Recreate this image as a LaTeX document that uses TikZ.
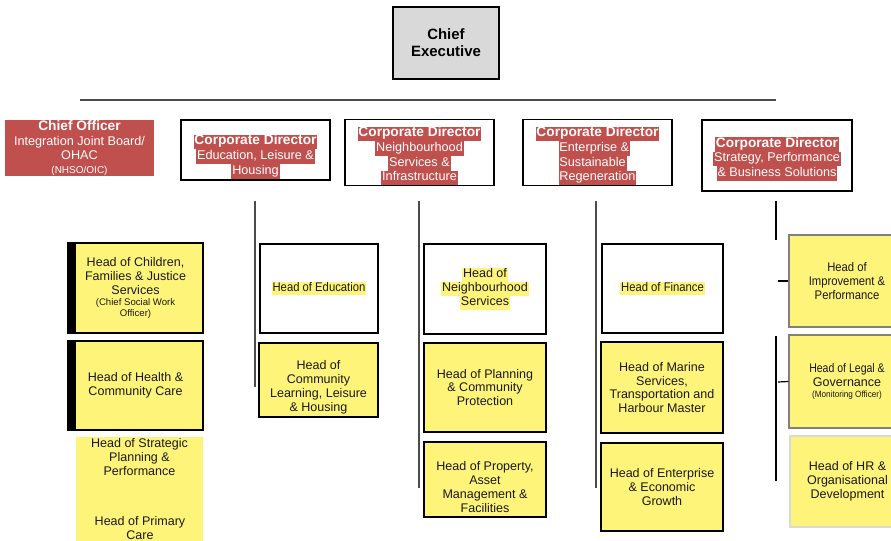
\documentclass[tikz,border=0pt]{standalone}
\usepackage{fontspec}
\setmainfont{Liberation Sans}
\newfontfamily\narrowfont[FakeStretch=0.9]{Liberation Sans}
\newfontfamily\narrowerfont[FakeStretch=0.84]{Liberation Sans}
\definecolor{cdred}{RGB}{192,80,77}
\definecolor{headyel}{RGB}{255,244,122}
\definecolor{ceogray}{RGB}{217,217,217}
\setlength{\fboxsep}{0pt}
\newcommand{\redhl}[1]{\colorbox{cdred}{\kern0.7pt\strut #1\kern0.7pt}}
\newcommand{\yelhl}[1]{\colorbox{headyel}{\kern0.7pt\strut #1\kern0.7pt}}
\newcommand{\cdtitle}[1]{\rule{0pt}{13pt}{\fontsize{10.3}{11}\selectfont\bfseries\redhl{#1}}}
\newcommand{\smalltxt}[1]{{\fontsize{7.2}{8}\selectfont #1}}
\begin{document}
\begin{tikzpicture}[x=0.75pt,y=-0.75pt,
    ceobox/.style={draw,line width=0.8pt,fill=ceogray,minimum width=79.5pt,minimum height=54pt,align=center,font=\fontsize{11.2}{12.75}\selectfont\bfseries},
    cdbox/.style={draw,line width=0.8pt,fill=white,minimum width=111.75pt,align=center,inner sep=0pt,text=white,font=\fontsize{9.5}{11}\selectfont},
    headbox/.style={draw,line width=0.8pt,fill=headyel,align=center,inner sep=1pt,text=black!90,font=\fontsize{9.4}{10.4}\selectfont},
    headtext/.style={align=center,inner sep=0pt,text=black!90,font=\fontsize{9.4}{10.4}\selectfont},
    leftbar/.style={path picture={\fill[black] (path picture bounding box.north west) rectangle ([xshift=6pt]path picture bounding box.south west);}},
    orgline/.style={black!70,line width=0.9pt}]
    \useasboundingbox (0,0) rectangle (891,541);
    \node[ceobox] (ceo) at (446,43) {Chief\\Executive};
    \coordinate (barl) at (80,100);
    \coordinate (barr) at (776,100);
    \draw[orgline] (barl) -- (barr);
    \node[fill=cdred,text=white,minimum width=111.75pt,minimum height=42pt,align=center,inner sep=0pt,font=\fontsize{9.5}{11}\selectfont] (cheo) at (79.5,148) {{\fontsize{10.3}{11}\selectfont\bfseries Chief Officer}\\Integration Joint Board/\\OHAC\\[-1pt]{\fontsize{7.5}{9}\selectfont (NHSO/OIC)}};
    \node[cdbox,minimum height=45pt] (cd1) at (255.5,150) {};
    \node[cdbox,draw=none,fill=none] (cd1t) at (255.5,153) {\cdtitle{Corporate Director}\\\redhl{Education, Leisure \&}\\\redhl{Housing}};
    \node[cdbox,minimum height=48.75pt] (cd2) at (419.5,152.5) {\cdtitle{Corporate Director}\\\redhl{Neighbourhood}\\\redhl{Services \&}\\\redhl{Infrastructure}};
    \node[cdbox,minimum height=48.75pt] (cd3) at (597.5,152.5) {\cdtitle{Corporate Director}\\\begin{tabular}[t]{@{}l@{}}\redhl{Enterprise \&}\\\redhl{Sustainable}\\\redhl{Regeneration}\end{tabular}};
    \node[cdbox,minimum width=112.5pt,minimum height=53.25pt] (cd5) at (777,155.5) {\cdtitle{Corporate Director}\\\redhl{Strategy, Performance}\\\redhl{\& Business Solutions}};
    % reporting lines
    \coordinate (v1t) at (255,201); \coordinate (v1b) at (255,387);
    \coordinate (v2t) at (419,201); \coordinate (v2b) at (419,488);
    \coordinate (v3t) at (596,201); \coordinate (v3b) at (596,488);
    \coordinate (v4t) at (776,201); \coordinate (v4m) at (776,240);
    \coordinate (v5t) at (776,336); \coordinate (v5b) at (776,481);
    \draw[orgline] (v1t) -- (v1b);
    \draw[orgline] (v2t) -- (v2b);
    \draw[orgline] (v3t) -- (v3b);
    \draw[orgline,black] (v4t) -- (v4m);
    \draw[orgline,black] (v5t) -- (v5b);
    % chief officer heads
    \node[headbox,leftbar,minimum width=101.25pt,minimum height=67.5pt] (hcfj) at (135.5,288) {Head of Children,\\Families \& Justice\\Services\\[-2pt]\smalltxt{(Chief Social Work}\\[-2.2pt]\smalltxt{Officer)}};
    \node[headbox,leftbar,minimum width=101.25pt,minimum height=66.75pt] (hhcc) at (135.5,385.5) {Head of Health \&\\Community Care};
    \node[fill=headyel,minimum width=95.25pt,minimum height=81pt,inner sep=0pt] (hspbox) at (139.5,491) {};
    \node[headtext,anchor=north] (hspp) at ([yshift=-1pt]hspbox.north) {Head of Strategic\\Planning \&\\Performance};
    \node[headtext] (hpc) at (140,528) {Head of Primary\\Care};
    % education, leisure & housing
    \node[headbox,fill=white,minimum width=88.5pt,minimum height=66.75pt] (hedu) at (319,288.5) {\narrowfont\yelhl{Head of Education}};
    \node[headbox,minimum width=89.25pt,minimum height=55.5pt] (hcllbox) at (318.5,380) {};
    \node[headtext] (hcll) at (318.5,387) {Head of\\Community\\Learning, Leisure\\\& Housing};
    % neighbourhood services & infrastructure
    \node[headbox,fill=white,minimum width=91.5pt,minimum height=67.5pt] (hns) at (485,289) {\yelhl{Head of}\\\yelhl{Neighbourhood}\\\yelhl{Services}};
    \node[headbox,minimum width=91.5pt,minimum height=66.75pt] (hpcp) at (485,387.5) {Head of Planning\\\& Community\\Protection};
    \node[headbox,minimum width=91.5pt,minimum height=56.25pt] (hpamfbox) at (485,479.5) {};
    \node[headtext] (hpamf) at (485,487) {Head of Property,\\Asset\\Management \&\\Facilities};
    % enterprise & sustainable regeneration
    \node[headbox,fill=white,minimum width=90.75pt,minimum height=66.75pt] (hfin) at (662.5,288.5) {\narrowfont\yelhl{Head of Finance}};
    \node[headbox,minimum width=91.5pt,minimum height=68.25pt] (hmar) at (662,387.5) {Head of Marine\\Services,\\Transportation and\\Harbour Master};
    \node[headbox,minimum width=91.5pt,minimum height=66pt] (hege) at (662,487) {Head of Enterprise\\\& Economic\\Growth};
    % strategy, performance & business solutions
    \node[headbox,draw=black!50,minimum width=87pt,minimum height=69pt,font=\fontsize{9.4}{10.4}\selectfont\narrowfont] (himp) at (847,281) {Head of\\Improvement \&\\Performance};
    \node[headbox,draw=black!50,minimum width=87pt,minimum height=69.75pt] (hlg) at (847,381.5) {{\narrowerfont Head of Legal \&}\\Governance\\[-2pt]{\narrowfont\fontsize{6.8}{8}\selectfont (Monitoring Officer)}};
    \node[headbox,draw=black!15,minimum width=86.25pt,minimum height=68.25pt] (hhr) at (847.5,481.5) {Head of HR \&\\Organisational\\Development};
    \coordinate (t1) at (778,281);
    \coordinate (t2) at (778,382);
    \draw[orgline,black] (t1) -- (himp.west);
    \draw[orgline,black] (t2) -- (hlg.west);
\end{tikzpicture}
\end{document}
